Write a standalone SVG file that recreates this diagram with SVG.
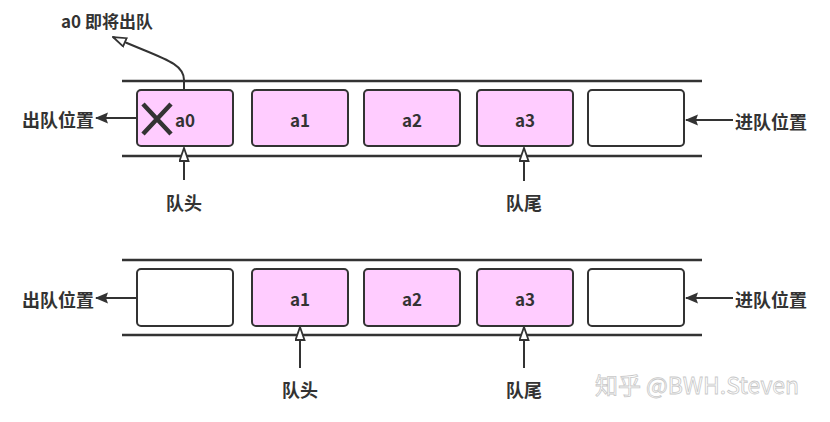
<svg xmlns="http://www.w3.org/2000/svg" width="830" height="422" viewBox="0 0 830 422">
<defs>
<style>
.rail{stroke:#333;stroke-width:2.5;fill:none}
.box{stroke:#333;stroke-width:2;rx:4;ry:4}
.full{fill:#FFCCFF}
.empty{fill:#FFFFFF}
.t{font-family:"Noto Sans CJK SC","Noto Sans",sans-serif;font-weight:bold;fill:#333;text-anchor:middle;dominant-baseline:central}
.lbl{font-size:17px}
.cn{font-size:18px}
.edge{stroke:#333;stroke-width:2;fill:none}
</style>
<marker id="solid" viewBox="0 0 13 12" refX="12" refY="6" markerWidth="13" markerHeight="12" markerUnits="userSpaceOnUse" orient="auto">
<path d="M0,0.5 L13,6 L0,11.5 L2,6 Z" fill="#333"/>
</marker>
<marker id="hollow" viewBox="0 0 15 11" refX="14" refY="5.5" markerWidth="15" markerHeight="11" markerUnits="userSpaceOnUse" orient="auto">
<path d="M1,1 L14,5.5 L1,10 Z" fill="#fff" stroke="#333" stroke-width="1.8"/>
</marker>
</defs>
<rect width="830" height="422" fill="#fff"/>
<g id="rails">
<line class="rail" x1="122" y1="81" x2="702" y2="81"/>
<line class="rail" x1="122" y1="156" x2="702" y2="156"/>
<line class="rail" x1="122" y1="260" x2="702" y2="260"/>
<line class="rail" x1="122" y1="335" x2="702" y2="335"/>
</g>
<g id="connectors">
<line class="edge" x1="137" y1="118" x2="96" y2="118" marker-end="url(#solid)"/>
<line class="edge" x1="733" y1="120" x2="686" y2="120" marker-end="url(#solid)"/>
<line class="edge" x1="184" y1="180" x2="184" y2="148" marker-end="url(#hollow)"/>
<line class="edge" x1="524" y1="181" x2="524" y2="148" marker-end="url(#hollow)"/>
<path class="edge" d="M184,89 L184,80 C184,62 160,58 113,37" marker-end="url(#hollow)"/>
<line class="edge" x1="137" y1="298" x2="96" y2="298" marker-end="url(#solid)"/>
<line class="edge" x1="733" y1="298" x2="686" y2="298" marker-end="url(#solid)"/>
<line class="edge" x1="300" y1="368" x2="300" y2="327" marker-end="url(#hollow)"/>
<line class="edge" x1="524" y1="368" x2="524" y2="327" marker-end="url(#hollow)"/>
</g>
<g id="top-a0">
<rect class="box full" x="137" y="90" width="96" height="56"/>
<path d="M143,104 L171,134 M171,104 L143,134" stroke="#333" stroke-width="4.5" fill="none"/>
<text class="t lbl" x="185" y="119">a0</text>
</g>
<g id="top-a1"><rect class="box full" x="252" y="90" width="96" height="56"/><text class="t lbl" x="300" y="119">a1</text></g>
<g id="top-a2"><rect class="box full" x="364" y="90" width="96" height="56"/><text class="t lbl" x="412" y="119">a2</text></g>
<g id="top-a3"><rect class="box full" x="477" y="90" width="96" height="56"/><text class="t lbl" x="525" y="119">a3</text></g>
<g id="top-empty"><rect class="box empty" x="588" y="90" width="96" height="56"/></g>
<g id="bot-empty0"><rect class="box empty" x="137" y="269" width="96" height="57"/></g>
<g id="bot-a1"><rect class="box full" x="252" y="269" width="96" height="57"/><text class="t lbl" x="300" y="298">a1</text></g>
<g id="bot-a2"><rect class="box full" x="364" y="269" width="96" height="57"/><text class="t lbl" x="412" y="298">a2</text></g>
<g id="bot-a3"><rect class="box full" x="477" y="269" width="96" height="57"/><text class="t lbl" x="525" y="298">a3</text></g>
<g id="bot-empty4"><rect class="box empty" x="588" y="269" width="96" height="57"/></g>
<g id="labels">
<text class="t" x="107" y="20" font-size="17">a0 即将出队</text>
<text class="t cn" x="58" y="119">出队位置</text>
<text class="t cn" x="771" y="121">进队位置</text>
<text class="t cn" x="184" y="202">队头</text>
<text class="t cn" x="524" y="202">队尾</text>
<text class="t cn" x="58" y="299">出队位置</text>
<text class="t cn" x="771" y="299">进队位置</text>
<text class="t cn" x="300" y="389">队头</text>
<text class="t cn" x="524" y="389">队尾</text>
</g>
<g id="watermark">
<text x="697" y="384" font-family="'Noto Sans CJK SC','Noto Sans',sans-serif" font-size="23" fill="#fff" stroke="#c8c8c8" stroke-width="0.8" text-anchor="middle" dominant-baseline="central">知乎 @BWH.Steven</text>
</g>
</svg>
